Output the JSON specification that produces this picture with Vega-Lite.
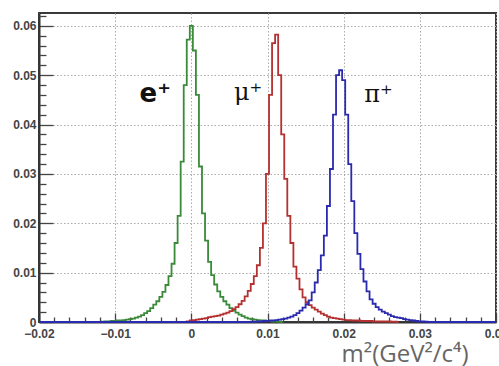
{
  "$schema": "https://vega.github.io/schema/vega-lite/v6.json",
  "width": 457,
  "height": 309,
  "autosize": {"type": "none"},
  "padding": {"left": 39, "top": 13, "right": 3, "bottom": 44},
  "background": "white",
  "config": {
    "view": {"stroke": "#3a3a3a", "strokeWidth": 2},
    "axis": {
      "labelFont": "Liberation Sans",
      "labelFontSize": 12,
      "labelFontWeight": "bold",
      "labelColor": "#444",
      "labelOverlap": false,
      "labelFlush": false,
      "labelBound": false,
      "domainColor": "#333",
      "domainWidth": 2,
      "tickColor": "#444",
      "tickWidth": 1.3,
      "gridColor": "#aaa",
      "gridDash": [1.5, 2],
      "gridWidth": 1
    }
  },
  "datasets": {
    "hist": [
      {"s":"e","x":-0.0120,"y":0},
      {"s":"e","x":-0.0116,"y":0.00005},
      {"s":"e","x":-0.0112,"y":0.0001},
      {"s":"e","x":-0.0108,"y":0.0001},
      {"s":"e","x":-0.0104,"y":0.0002},
      {"s":"e","x":-0.0100,"y":0.0002},
      {"s":"e","x":-0.0096,"y":0.0003},
      {"s":"e","x":-0.0092,"y":0.0003},
      {"s":"e","x":-0.0088,"y":0.0004},
      {"s":"e","x":-0.0084,"y":0.0005},
      {"s":"e","x":-0.0080,"y":0.0006},
      {"s":"e","x":-0.0076,"y":0.0007},
      {"s":"e","x":-0.0072,"y":0.0009},
      {"s":"e","x":-0.0068,"y":0.0011},
      {"s":"e","x":-0.0064,"y":0.0014},
      {"s":"e","x":-0.0060,"y":0.0018},
      {"s":"e","x":-0.0056,"y":0.0022},
      {"s":"e","x":-0.0052,"y":0.0028},
      {"s":"e","x":-0.0048,"y":0.0035},
      {"s":"e","x":-0.0044,"y":0.0042},
      {"s":"e","x":-0.0040,"y":0.0051},
      {"s":"e","x":-0.0036,"y":0.0061},
      {"s":"e","x":-0.0032,"y":0.0075},
      {"s":"e","x":-0.0028,"y":0.0093},
      {"s":"e","x":-0.0024,"y":0.0118},
      {"s":"e","x":-0.0020,"y":0.0160},
      {"s":"e","x":-0.0016,"y":0.0215},
      {"s":"e","x":-0.0012,"y":0.0325},
      {"s":"e","x":-0.0008,"y":0.0480},
      {"s":"e","x":-0.0004,"y":0.0572},
      {"s":"e","x":0.0000,"y":0.0600},
      {"s":"e","x":0.0004,"y":0.0550},
      {"s":"e","x":0.0008,"y":0.0460},
      {"s":"e","x":0.0012,"y":0.0315},
      {"s":"e","x":0.0016,"y":0.0220},
      {"s":"e","x":0.0020,"y":0.0165},
      {"s":"e","x":0.0024,"y":0.0122},
      {"s":"e","x":0.0028,"y":0.0095},
      {"s":"e","x":0.0032,"y":0.0076},
      {"s":"e","x":0.0036,"y":0.0062},
      {"s":"e","x":0.0040,"y":0.0051},
      {"s":"e","x":0.0044,"y":0.0042},
      {"s":"e","x":0.0048,"y":0.0035},
      {"s":"e","x":0.0052,"y":0.0028},
      {"s":"e","x":0.0056,"y":0.0023},
      {"s":"e","x":0.0060,"y":0.0019},
      {"s":"e","x":0.0064,"y":0.0015},
      {"s":"e","x":0.0068,"y":0.0012},
      {"s":"e","x":0.0072,"y":0.0009},
      {"s":"e","x":0.0076,"y":0.0007},
      {"s":"e","x":0.0080,"y":0.0006},
      {"s":"e","x":0.0084,"y":0.0005},
      {"s":"e","x":0.0088,"y":0.0004},
      {"s":"e","x":0.0092,"y":0.0003},
      {"s":"e","x":0.0096,"y":0.0003},
      {"s":"e","x":0.0100,"y":0.0002},
      {"s":"e","x":0.0104,"y":0.0002},
      {"s":"e","x":0.0108,"y":0.0001},
      {"s":"e","x":0.0112,"y":0.0001},
      {"s":"e","x":0.0116,"y":0.00005},
      {"s":"e","x":0.0120,"y":0},

      {"s":"mu","x":-0.0008,"y":0},
      {"s":"mu","x":-0.0004,"y":0.0001},
      {"s":"mu","x":0.0000,"y":0.0003},
      {"s":"mu","x":0.0004,"y":0.0004},
      {"s":"mu","x":0.0008,"y":0.0005},
      {"s":"mu","x":0.0012,"y":0.0006},
      {"s":"mu","x":0.0016,"y":0.0007},
      {"s":"mu","x":0.0020,"y":0.0008},
      {"s":"mu","x":0.0024,"y":0.0010},
      {"s":"mu","x":0.0028,"y":0.0011},
      {"s":"mu","x":0.0032,"y":0.0012},
      {"s":"mu","x":0.0036,"y":0.0013},
      {"s":"mu","x":0.0040,"y":0.0015},
      {"s":"mu","x":0.0044,"y":0.0017},
      {"s":"mu","x":0.0048,"y":0.0019},
      {"s":"mu","x":0.0052,"y":0.0022},
      {"s":"mu","x":0.0056,"y":0.0026},
      {"s":"mu","x":0.0060,"y":0.0030},
      {"s":"mu","x":0.0064,"y":0.0036},
      {"s":"mu","x":0.0068,"y":0.0043},
      {"s":"mu","x":0.0072,"y":0.0052},
      {"s":"mu","x":0.0076,"y":0.0063},
      {"s":"mu","x":0.0080,"y":0.0077},
      {"s":"mu","x":0.0084,"y":0.0093},
      {"s":"mu","x":0.0088,"y":0.0115},
      {"s":"mu","x":0.0092,"y":0.0150},
      {"s":"mu","x":0.0096,"y":0.0200},
      {"s":"mu","x":0.0100,"y":0.0300},
      {"s":"mu","x":0.0104,"y":0.0460},
      {"s":"mu","x":0.0108,"y":0.0565},
      {"s":"mu","x":0.0112,"y":0.0582},
      {"s":"mu","x":0.0116,"y":0.0500},
      {"s":"mu","x":0.0120,"y":0.0380},
      {"s":"mu","x":0.0124,"y":0.0290},
      {"s":"mu","x":0.0128,"y":0.0215},
      {"s":"mu","x":0.0132,"y":0.0160},
      {"s":"mu","x":0.0136,"y":0.0112},
      {"s":"mu","x":0.0140,"y":0.0088},
      {"s":"mu","x":0.0144,"y":0.0066},
      {"s":"mu","x":0.0148,"y":0.0050},
      {"s":"mu","x":0.0152,"y":0.0040},
      {"s":"mu","x":0.0156,"y":0.0034},
      {"s":"mu","x":0.0160,"y":0.0029},
      {"s":"mu","x":0.0164,"y":0.0025},
      {"s":"mu","x":0.0168,"y":0.0021},
      {"s":"mu","x":0.0172,"y":0.0017},
      {"s":"mu","x":0.0176,"y":0.0014},
      {"s":"mu","x":0.0180,"y":0.0011},
      {"s":"mu","x":0.0184,"y":0.0009},
      {"s":"mu","x":0.0188,"y":0.0008},
      {"s":"mu","x":0.0192,"y":0.0007},
      {"s":"mu","x":0.0196,"y":0.0006},
      {"s":"mu","x":0.0200,"y":0.0005},
      {"s":"mu","x":0.0204,"y":0.0004},
      {"s":"mu","x":0.0208,"y":0.0004},
      {"s":"mu","x":0.0212,"y":0.0003},
      {"s":"mu","x":0.0216,"y":0.0003},
      {"s":"mu","x":0.0220,"y":0.0003},
      {"s":"mu","x":0.0224,"y":0.0002},
      {"s":"mu","x":0.0228,"y":0.0002},
      {"s":"mu","x":0.0232,"y":0.0002},
      {"s":"mu","x":0.0236,"y":0.0002},
      {"s":"mu","x":0.0240,"y":0.0001},
      {"s":"mu","x":0.0244,"y":0.0001},
      {"s":"mu","x":0.0248,"y":0.0001},
      {"s":"mu","x":0.0252,"y":0.0001},
      {"s":"mu","x":0.0256,"y":0.0001},
      {"s":"mu","x":0.0260,"y":0.0001},
      {"s":"mu","x":0.0264,"y":0.00005},
      {"s":"mu","x":0.0268,"y":0.00005},
      {"s":"mu","x":0.0272,"y":0},

      {"s":"pi","x":-0.0200,"y":0},
      {"s":"pi","x":0.0076,"y":0},
      {"s":"pi","x":0.0080,"y":0.00005},
      {"s":"pi","x":0.0084,"y":0.00005},
      {"s":"pi","x":0.0088,"y":0.0001},
      {"s":"pi","x":0.0092,"y":0.0001},
      {"s":"pi","x":0.0096,"y":0.0002},
      {"s":"pi","x":0.0100,"y":0.0002},
      {"s":"pi","x":0.0104,"y":0.0003},
      {"s":"pi","x":0.0108,"y":0.0003},
      {"s":"pi","x":0.0112,"y":0.0004},
      {"s":"pi","x":0.0116,"y":0.0005},
      {"s":"pi","x":0.0120,"y":0.0006},
      {"s":"pi","x":0.0124,"y":0.0007},
      {"s":"pi","x":0.0128,"y":0.0009},
      {"s":"pi","x":0.0132,"y":0.0011},
      {"s":"pi","x":0.0136,"y":0.0014},
      {"s":"pi","x":0.0140,"y":0.0018},
      {"s":"pi","x":0.0144,"y":0.0023},
      {"s":"pi","x":0.0148,"y":0.0029},
      {"s":"pi","x":0.0152,"y":0.0036},
      {"s":"pi","x":0.0156,"y":0.0044},
      {"s":"pi","x":0.0160,"y":0.0060},
      {"s":"pi","x":0.0164,"y":0.0080},
      {"s":"pi","x":0.0168,"y":0.0105},
      {"s":"pi","x":0.0172,"y":0.0135},
      {"s":"pi","x":0.0176,"y":0.0175},
      {"s":"pi","x":0.0180,"y":0.0235},
      {"s":"pi","x":0.0184,"y":0.0310},
      {"s":"pi","x":0.0188,"y":0.0420},
      {"s":"pi","x":0.0192,"y":0.0500},
      {"s":"pi","x":0.0196,"y":0.0510},
      {"s":"pi","x":0.0200,"y":0.0490},
      {"s":"pi","x":0.0204,"y":0.0420},
      {"s":"pi","x":0.0208,"y":0.0320},
      {"s":"pi","x":0.0212,"y":0.0245},
      {"s":"pi","x":0.0216,"y":0.0180},
      {"s":"pi","x":0.0220,"y":0.0138},
      {"s":"pi","x":0.0224,"y":0.0107},
      {"s":"pi","x":0.0228,"y":0.0082},
      {"s":"pi","x":0.0232,"y":0.0062},
      {"s":"pi","x":0.0236,"y":0.0046},
      {"s":"pi","x":0.0240,"y":0.0037},
      {"s":"pi","x":0.0244,"y":0.0030},
      {"s":"pi","x":0.0248,"y":0.0025},
      {"s":"pi","x":0.0252,"y":0.0021},
      {"s":"pi","x":0.0256,"y":0.0018},
      {"s":"pi","x":0.0260,"y":0.0015},
      {"s":"pi","x":0.0264,"y":0.0012},
      {"s":"pi","x":0.0268,"y":0.0010},
      {"s":"pi","x":0.0272,"y":0.0009},
      {"s":"pi","x":0.0276,"y":0.0008},
      {"s":"pi","x":0.0280,"y":0.0006},
      {"s":"pi","x":0.0284,"y":0.0005},
      {"s":"pi","x":0.0288,"y":0.0004},
      {"s":"pi","x":0.0292,"y":0.0003},
      {"s":"pi","x":0.0296,"y":0.0002},
      {"s":"pi","x":0.0300,"y":0.0001},
      {"s":"pi","x":0.0304,"y":0.0001},
      {"s":"pi","x":0.0308,"y":0.00005},
      {"s":"pi","x":0.0312,"y":0},
      {"s":"pi","x":0.0400,"y":0}
    ],
    "labelsSans": [
      {"label": "e⁺", "x": -0.0068, "y": 0.0446}
    ],
    "labelsSerif": [
      {"label": "μ⁺", "x": 0.0056, "y": 0.045},
      {"label": "π⁺", "x": 0.0227, "y": 0.0446}
    ]
  },
  "layer": [
    {
      "data": {"name": "hist"},
      "mark": {"type": "line", "interpolate": "step", "strokeWidth": 1.8},
      "encoding": {
        "x": {
          "field": "x", "type": "quantitative",
          "scale": {"domain": [-0.02, 0.04], "nice": false, "zero": false},
          "axis": {
            "orient": "bottom",
            "values": [-0.02, -0.01, 0, 0.01, 0.02, 0.03, 0.04],
            "format": ".2~f",
            "grid": true,
            "tickSize": -9,
            "labelPadding": 15,
            "title": "m²(GeV²/c⁴)",
            "titleFont": "Open Sans",
            "titleFontSize": 24,
            "titleFontWeight": "normal",
            "titleColor": "#666",
            "titleAnchor": "end",
            "titleAlign": "right",
            "titleBaseline": "alphabetic",
            "titleX": 429,
            "titleY": 39
          }
        },
        "y": {
          "field": "y", "type": "quantitative",
          "scale": {"domain": [0, 0.0626], "nice": false, "zero": false},
          "axis": {
            "orient": "left",
            "values": [0, 0.01, 0.02, 0.03, 0.04, 0.05, 0.06],
            "format": ".2~f",
            "grid": true,
            "tickSize": -14,
            "labelPadding": 17,
            "title": null
          }
        },
        "color": {
          "field": "s", "type": "nominal",
          "scale": {"domain": ["e", "mu", "pi"], "range": ["#3a8a3a", "#b53030", "#2a2ab0"]},
          "legend": null
        }
      }
    },
    {
      "data": {"name": "labelsSans"},
      "mark": {"type": "text", "align": "left", "baseline": "alphabetic", "font": "DejaVu Sans", "fontWeight": "bold", "fontSize": 26, "color": "#111"},
      "encoding": {
        "x": {
          "field": "x", "type": "quantitative",
          "scale": {"domain": [-0.02, 0.04], "nice": false, "zero": false},
          "axis": {
            "orient": "bottom",
            "values": [-0.018,-0.016,-0.014,-0.012,-0.008,-0.006,-0.004,-0.002,0.002,0.004,0.006,0.008,0.012,0.014,0.016,0.018,0.022,0.024,0.026,0.028,0.032,0.034,0.036,0.038],
            "labels": false, "domain": false, "grid": false,
            "tickSize": -5, "title": null
          }
        },
        "y": {
          "field": "y", "type": "quantitative",
          "scale": {"domain": [0, 0.0626], "nice": false, "zero": false},
          "axis": {
            "orient": "left",
            "values": [0.002,0.004,0.006,0.008,0.012,0.014,0.016,0.018,0.022,0.024,0.026,0.028,0.032,0.034,0.036,0.038,0.042,0.044,0.046,0.048,0.052,0.054,0.056,0.058,0.062],
            "labels": false, "domain": false, "grid": false,
            "tickSize": -7, "title": null
          }
        },
        "text": {"field": "label"}
      }
    },
    {
      "data": {"name": "labelsSerif"},
      "mark": {"type": "text", "align": "left", "baseline": "alphabetic", "font": "DejaVu Serif", "fontSize": 24, "color": "#111"},
      "encoding": {
        "x": {"field": "x", "type": "quantitative", "scale": {"domain": [-0.02, 0.04], "nice": false, "zero": false}, "axis": null},
        "y": {"field": "y", "type": "quantitative", "scale": {"domain": [0, 0.0626], "nice": false, "zero": false}, "axis": null},
        "text": {"field": "label"}
      }
    }
  ],
  "resolve": {"axis": {"x": "independent", "y": "independent"}}
}
